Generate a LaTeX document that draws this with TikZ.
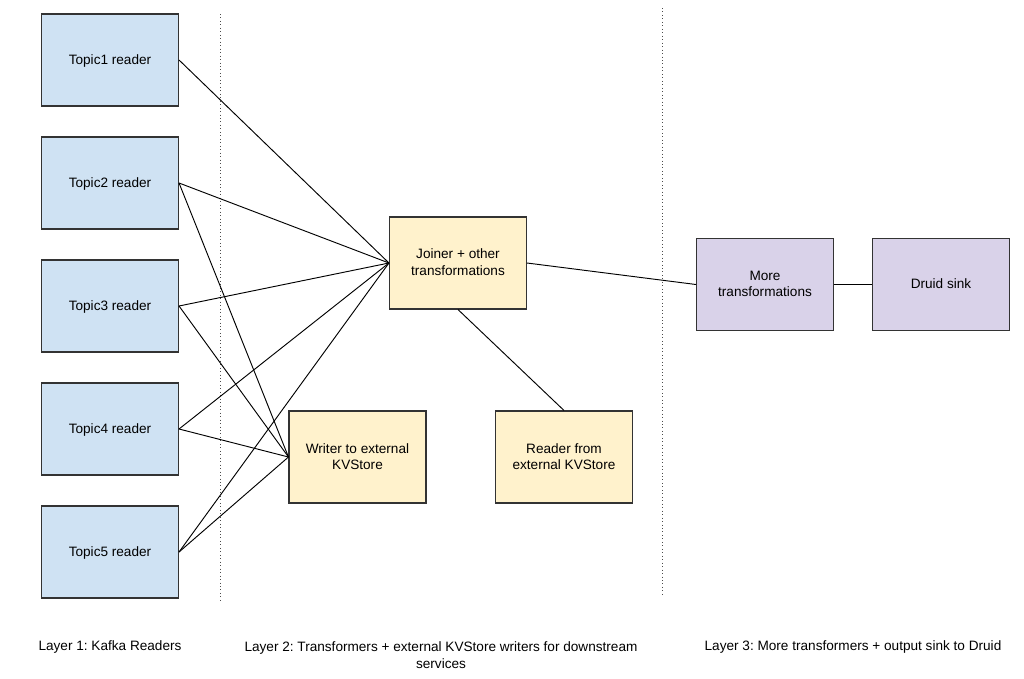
\documentclass[tikz,border=0pt]{standalone}
\usepackage{fontspec}
\setmainfont{Liberation Sans}
\frenchspacing
\begin{document}
\begin{tikzpicture}[x=0.75pt,y=-0.75pt,
  base/.style={draw=black!80,line width=0.8pt,minimum width=102.75pt,minimum height=69pt,inner sep=2pt,align=center,font=\fontsize{10.2}{12.2}\selectfont,text depth=1.2pt},
  topicbox/.style={base,fill={rgb,255:red,207;green,226;blue,243}},
  yellowbox/.style={base,fill={rgb,255:red,255;green,242;blue,204}},
  purplebox/.style={base,fill={rgb,255:red,217;green,210;blue,233}},
  conn/.style={draw=black,line width=0.7pt},
  divider/.style={draw=black!70,line width=0.6pt,dotted},
  layerlabel/.style={font=\fontsize{10.2}{12.2}\selectfont,align=center}]
\useasboundingbox (0,0) rectangle (1024,678);
\node[topicbox] (t1) at (110,60) {Topic1 reader};
\node[topicbox] (t2) at (110,183) {Topic2 reader};
\node[topicbox] (t3) at (110,306) {Topic3 reader};
\node[topicbox] (t4) at (110,429) {Topic4 reader};
\node[topicbox] (t5) at (110,552) {Topic5 reader};
\node[yellowbox] (j) at (458,263) {Joiner + other\\transformations};
\node[yellowbox] (w) at (357.5,457) {Writer to external\\KVStore};
\node[yellowbox] (r) at (564,457) {Reader from\\external KVStore};
\node[purplebox] (m) at (765,284.5) {More\\transformations};
\node[purplebox] (d) at (941,284.5) {Druid sink};
\coordinate (d1a) at (220,14);
\coordinate (d1b) at (220,603);
\coordinate (d2a) at (662,8);
\coordinate (d2b) at (662,597);
\draw[divider] (d1a) -- (d1b);
\draw[divider] (d2a) -- (d2b);
\foreach \t in {t1,t2,t3,t4,t5} {\draw[conn] (\t.east) -- (j.west);}
\foreach \t in {t2,t3,t4,t5} {\draw[conn] (\t.east) -- (w.west);}
\draw[conn] (j.east) -- (m.west);
\draw[conn] (j.south) -- (r.north);
\draw[conn] (m.east) -- (d.west);
\node[layerlabel] (l1) at (110,647) {Layer 1: Kafka Readers};
\node[layerlabel] (l2) at (441,655) {Layer 2: Transformers + external KVStore writers for downstream\\services};
\node[layerlabel] (l3) at (853,647) {Layer 3: More transformers + output sink to Druid};
\end{tikzpicture}
\end{document}
